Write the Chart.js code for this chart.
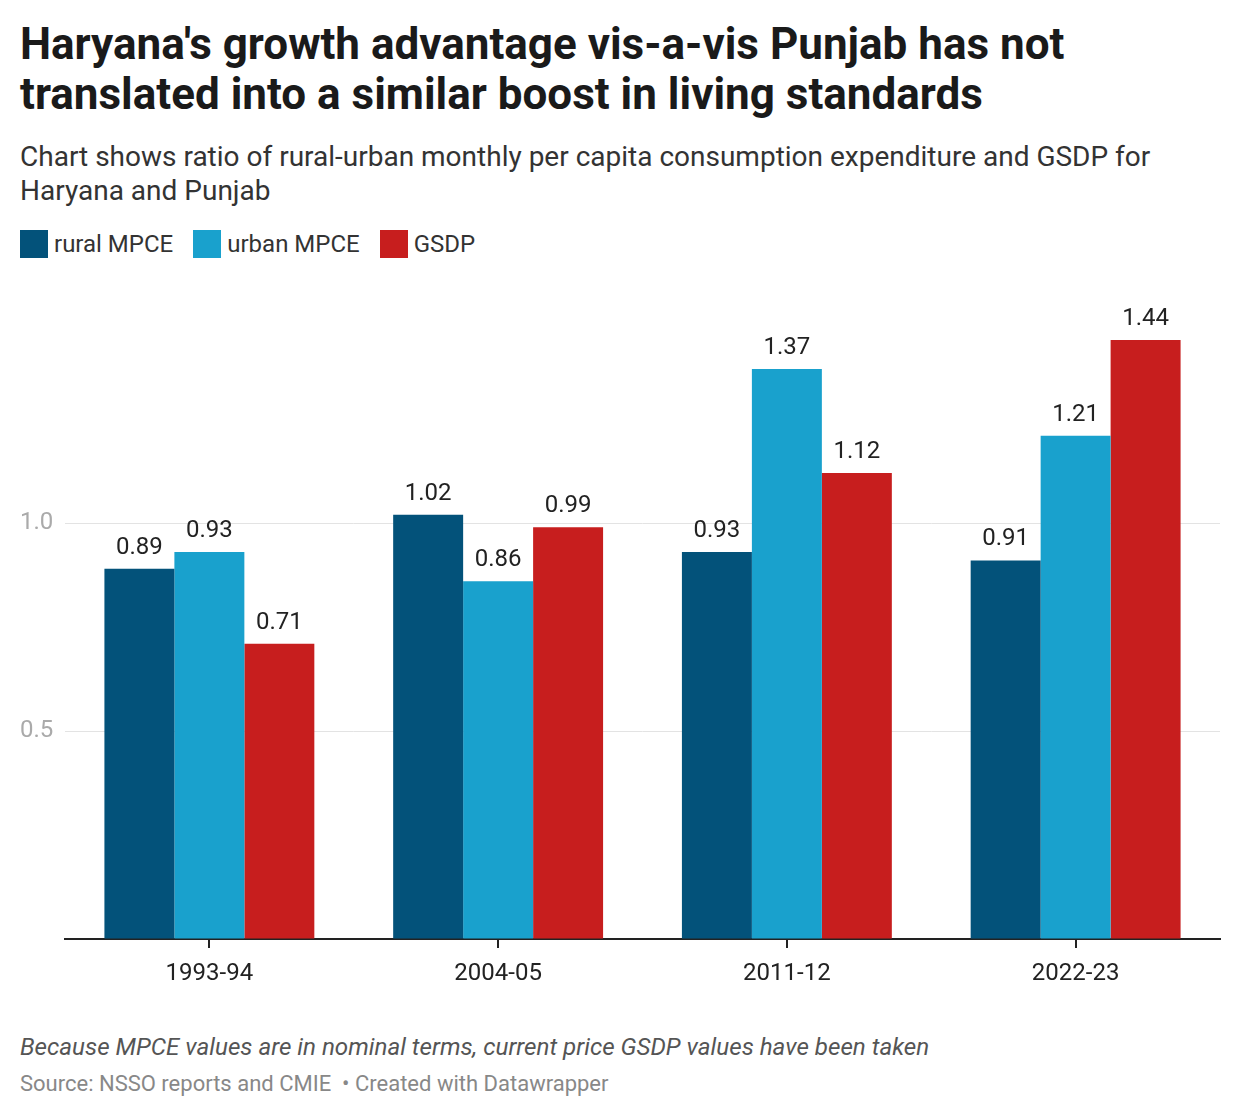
<!DOCTYPE html>
<html>
<head>
<meta charset="utf-8">
<script src="https://cdn.jsdelivr.net/npm/chart.js@4"></script>
<style>
  body { margin: 0; width: 1240px; height: 1120px; background: #fff; font-family: Roboto, sans-serif; position: relative; }
  h1 { position: absolute; left: 20px; top: 19px; margin: 0; font-size: 44px; line-height: 50px; font-weight: 700; color: #1a1a1a; width: 1100px; }
  .sub { position: absolute; left: 20px; top: 140px; margin: 0; font-size: 28px; line-height: 34px; color: #333; width: 1200px; }
  .legend { position: absolute; left: 20px; top: 230px; display: flex; font-size: 24px; color: #333; }
  .legend span { display: flex; align-items: center; margin-right: 20px; }
  .legend i { display: inline-block; width: 28px; height: 28px; margin-right: 6px; }
  #wrap { position: absolute; left: 0; top: 280px; width: 1240px; height: 720px; }
  .note { position: absolute; left: 20px; top: 1033px; font-size: 24.2px; font-style: italic; color: #555; }
  .src { position: absolute; left: 20px; top: 1071px; font-size: 22px; color: #888; }
</style>
</head>
<body>
<h1>Haryana's growth advantage vis-a-vis Punjab has not translated into a similar boost in living standards</h1>
<p class="sub">Chart shows ratio of rural-urban monthly per capita consumption expenditure and GSDP for Haryana and Punjab</p>
<div class="legend" id="legend"></div>
<div id="wrap"><canvas id="chart"></canvas></div>
<div class="note">Because MPCE values are in nominal terms, current price GSDP values have been taken</div>
<div class="src">Source: NSSO reports and CMIE &nbsp;• Created with Datawrapper</div>
<script>
const years = ["1993-94", "2004-05", "2011-12", "2022-23"];
const ruralMPCE = [0.89, 1.02, 0.93, 0.91];
const urbanMPCE = [0.93, 0.86, 1.37, 1.21];
const gsdp = [0.71, 0.99, 1.12, 1.44];
const yTicks = [0.5, 1.0];

const series = [
  { label: "rural MPCE", data: ruralMPCE, color: "#03527a" },
  { label: "urban MPCE", data: urbanMPCE, color: "#19a1cd" },
  { label: "GSDP", data: gsdp, color: "#c71e1e" },
];

// html legend
const legend = document.getElementById("legend");
series.forEach(s => {
  const item = document.createElement("span");
  item.innerHTML = `<i style="background:${s.color}"></i>${s.label}`;
  legend.appendChild(item);
});

// value labels above the bars
const valueLabels = {
  id: "valueLabels",
  afterDatasetsDraw(chart) {
    const ctx = chart.ctx;
    ctx.save();
    ctx.font = "24px Roboto";
    ctx.fillStyle = "#222";
    ctx.textAlign = "center";
    ctx.textBaseline = "bottom";
    chart.data.datasets.forEach((ds, i) => {
      chart.getDatasetMeta(i).data.forEach((bar, j) => {
        ctx.fillText(ds.data[j].toFixed(2), bar.x, bar.y - 9);
      });
    });
    ctx.restore();
  }
};

const ctx = document.getElementById("chart").getContext("2d");
new Chart(ctx, {
  type: "bar",
  data: {
    labels: years,
    datasets: series.map(s => ({
      label: s.label,
      data: s.data,
      backgroundColor: s.color,
      borderWidth: 0,
      categoryPercentage: 0.727,
      barPercentage: 1.0,
    })),
  },
  options: {
    responsive: true,
    maintainAspectRatio: false,
    animation: false,
    layout: { padding: { left: 20, right: 20, top: 35, bottom: 0 } },
    plugins: { legend: { display: false }, tooltip: { enabled: false } },
    scales: {
      x: {
        grid: { offset: false, drawOnChartArea: false, drawTicks: true, tickLength: 9, color: "#222", lineWidth: 2 },
        border: { display: true, color: "#222", width: 2 },
        ticks: { color: "#222", font: { family: "Roboto", size: 24 }, padding: 12 },
        afterFit: (s) => { s.height = 61; },
      },
      y: {
        min: 0,
        max: 1.5,
        afterBuildTicks: (s) => { s.ticks = [0, ...yTicks, 1.5].map(v => ({ value: v })); },
        border: { display: false },
        grid: {
          drawTicks: false,
          color: (c) => (yTicks.includes(c.tick.value) ? "#e3e3e3" : "rgba(0,0,0,0)"),
          lineWidth: 1,
        },
        ticks: {
          color: "#aaa",
          font: { family: "Roboto", size: 24 },
          crossAlign: "far",
          padding: 0,
          callback: (v) => (yTicks.includes(v) ? v.toFixed(1) : ""),
        },
        afterFit: (s) => { s.width = 45; },
      },
    },
  },
  plugins: [valueLabels],
});
</script>
</body>
</html>
